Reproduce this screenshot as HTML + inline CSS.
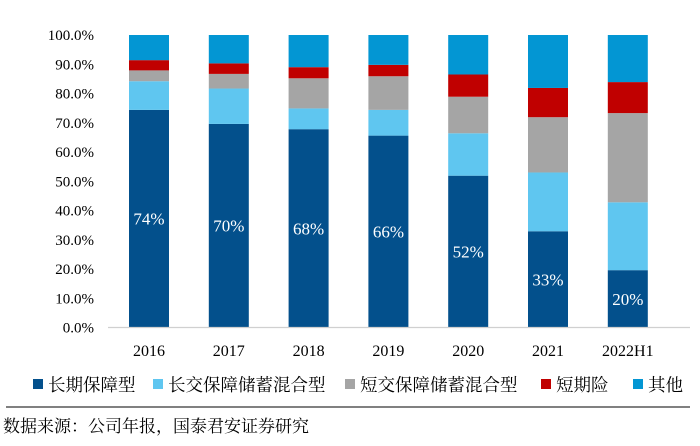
<!DOCTYPE html>
<html><head><meta charset="utf-8"><style>
body{margin:0;background:#fff;}
svg, svg text{font-family:"Liberation Serif","Times New Roman","Noto Serif CJK SC",serif !important;}
</style></head><body>
<svg id="c" width="700" height="441" xmlns="http://www.w3.org/2000/svg" font-family="Liberation Serif, Noto Serif CJK SC, serif"></svg>
<script>
const categories=["2016","2017","2018","2019","2020","2021","2022H1"];
const longTerm=[74.4,69.6,67.8,65.6,51.9,32.9,19.6];
const longMixed=[9.8,12.1,7.1,8.8,14.5,20.1,23.2];
const shortMixed=[3.7,5.0,10.3,11.5,12.5,18.9,30.5];
const shortTerm=[3.5,3.6,3.8,3.9,7.6,10.0,10.6];
const others=[8.6,9.7,11.0,10.2,13.5,18.1,16.1];
const barLabels=["74%","70%","68%","66%","52%","33%","20%"];
const yTicks=[0,10,20,30,40,50,60,70,80,90,100];
const seriesNames=["长期保障型","长交保障储蓄混合型","短交保障储蓄混合型","短期险","其他"];
const colors=["#03508C","#5FC6F0","#A5A5A5","#C00000","#0396D3"];
const series=[longTerm,longMixed,shortMixed,shortTerm,others];
const NS="http://www.w3.org/2000/svg";
const FF='"Liberation Serif","Noto Serif CJK SC",serif';
const svg=document.getElementById('c');
function el(t,a,p){const e=document.createElementNS(NS,t);for(const k in a)e.setAttribute(k,a[k]);if(t==='text')e.style.fontFamily=FF;(p||svg).appendChild(e);return e;}
const y=v=>327.5-v*2.925;
const x=i=>149+i*79.8;
yTicks.forEach(v=>{const t=el('text',{x:94,y:y(v)+5,'text-anchor':'end','font-size':15,fill:'#000'});t.textContent=v.toFixed(1)+'%';

});
categories.forEach((c,i)=>{
  let acc=0;
  series.forEach((s,k)=>{const r=el('rect',{x:x(i)-20,y:y(acc+s[i]),width:40,height:s[i]*2.925,fill:colors[k]});
  
  
  acc+=s[i];});
  const lb=el('text',{x:x(i),y:y(longTerm[i]/2)+6,'text-anchor':'middle','font-size':17,fill:'#fff'});lb.textContent=barLabels[i];
  
  
  const t=el('text',{x:x(i),y:356,'text-anchor':'middle','font-size':16,fill:'#000'});t.textContent=c;
  
  
});
const ax=el('line',{x1:108,x2:690,y1:327.5,y2:327.5,stroke:'#d0d0d0','stroke-width':1.2});


const lx=[33,153,345,541,633];
seriesNames.forEach((n,k)=>{
  const g=el('g',{});
  
  
  el('rect',{x:lx[k],y:379,width:10,height:10,fill:colors[k]},g);
  const t=el('text',{x:lx[k]+15,y:391,'font-size':17.5,fill:'#000'},g);t.textContent=n;
});
const sep=el('line',{x1:6,x2:690,y1:407,y2:407,stroke:'#000','stroke-width':1});


const src=el('text',{x:3,y:432,'font-size':17,fill:'#000'});src.textContent='数据来源：公司年报，国泰君安证券研究';


</script>
</body></html>
